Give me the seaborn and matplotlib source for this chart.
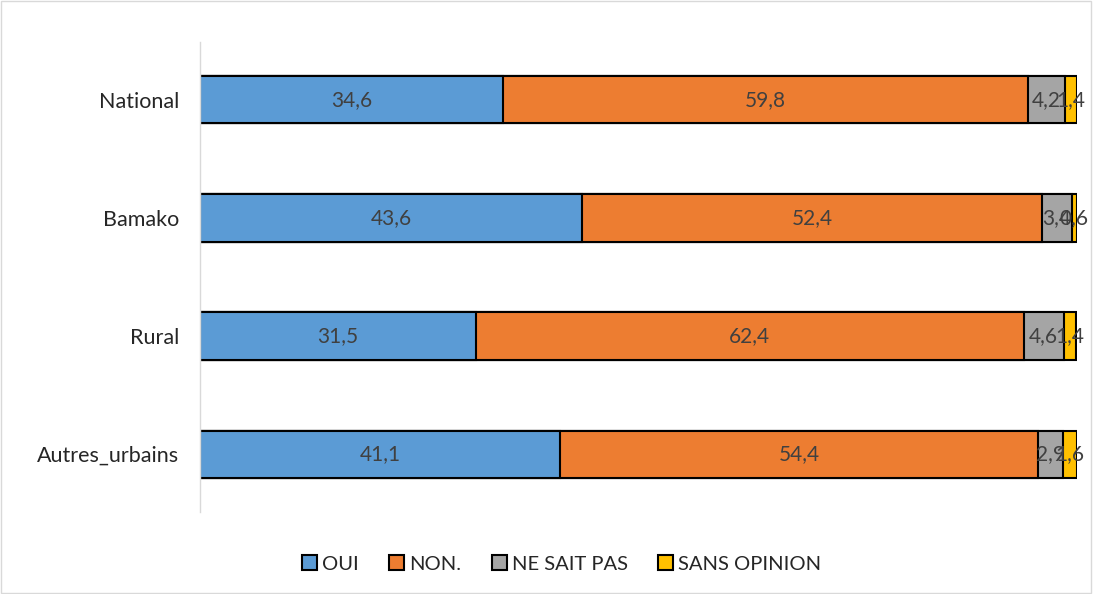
import matplotlib
matplotlib.use("Agg")
import matplotlib.pyplot as plt
from matplotlib.patches import Patch, Rectangle
import seaborn as sns
import pandas as pd
import numpy as np

regions = ["National", "Bamako", "Rural", "Autres_urbains"]
series = ["OUI", "NON.", "NE SAIT PAS", "SANS OPINION"]
oui = [34.6, 43.6, 31.5, 41.1]
non = [59.8, 52.4, 62.4, 54.4]
ne_sait_pas = [4.2, 3.4, 4.6, 2.9]
sans_opinion = [1.4, 0.6, 1.4, 1.6]
colors = ["#5B9BD5", "#ED7D31", "#A5A5A5", "#FFC000"]

sns.set_style("white")
plt.rcParams["font.family"] = ["Lato", "DejaVu Sans"]

vals = np.array([oui, non, ne_sait_pas, sans_opinion])
cum = vals.cumsum(axis=0)

fig = plt.figure(figsize=(10.93, 5.94), dpi=100)
ax = fig.add_axes([200 / 1093, 1 - 512 / 594, 877 / 1093, 470 / 594])

# draw cumulative totals from the last series back so earlier ones sit on top
for i in range(len(series) - 1, -1, -1):
    df = pd.DataFrame({"region": regions, "total": cum[i]})
    sns.barplot(data=df, y="region", x="total", orient="h", color=colors[i],
                saturation=1, width=0.4, edgecolor="black", linewidth=1.5, ax=ax)

for i in range(len(series)):
    for j in range(len(regions)):
        center = cum[i, j] - vals[i, j] / 2
        ax.text(center, j, f"{vals[i, j]:.1f}".replace(".", ","), ha="center", va="center",
                fontsize=15, color="#404040")

ax.set_xlim(0, 100)
ax.set_ylim(3.49, -0.49)
ax.set_xlabel("")
ax.set_ylabel("")
ax.set_xticks([])
ax.tick_params(axis="y", length=0, labelsize=15.5, pad=15)
for s in ["top", "right", "bottom"]:
    ax.spines[s].set_visible(False)
ax.spines["left"].set_color("#D9D9D9")
ax.spines["left"].set_linewidth(1)

handles = [Patch(facecolor=c, edgecolor="black", linewidth=1.5, label=s) for c, s in zip(colors, series)]
fig.legend(handles=handles, loc="center", bbox_to_anchor=(0.514, 1 - 564 / 594), ncol=4,
           frameon=False, fontsize=14.5, handlelength=0.75, handleheight=0.75,
           handletextpad=0.25, columnspacing=1.5)

fig.add_artist(Rectangle((0.001, 0.001), 0.997, 0.997, transform=fig.transFigure,
                         fill=False, edgecolor="#D9D9D9", linewidth=1))

fig.savefig("out.png", dpi=100)
